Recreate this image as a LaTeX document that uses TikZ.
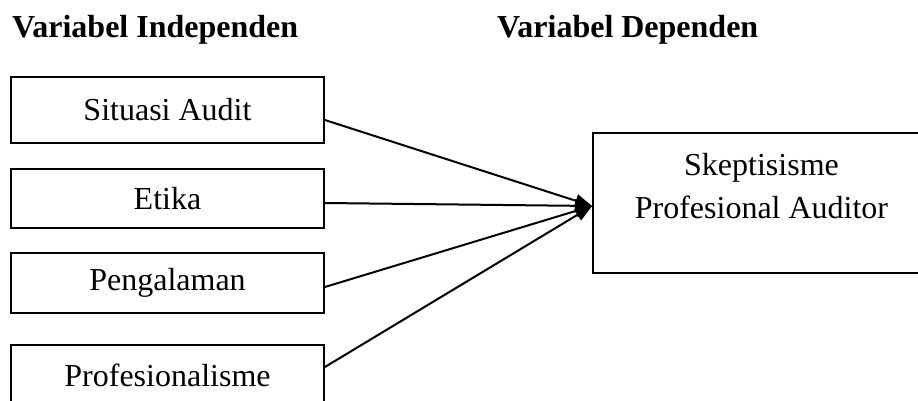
\documentclass[tikz,border=0pt]{standalone}
\usepackage{fontspec}
\setmainfont{Liberation Serif}
\usetikzlibrary{arrows.meta}
\begin{document}
\begin{tikzpicture}[x=1pt,y=-1pt,
 box/.style={draw, line width=1.8pt, minimum width=313pt, inner sep=0pt, font=\fontsize{32}{43}\selectfont},
 hdr/.style={font=\fontsize{32}{38}\selectfont\bfseries, anchor=base west, inner sep=0pt},
 link/.style={line width=2pt, -{Triangle[length=17pt,width=13pt]}}]
\useasboundingbox (0,0) rectangle (918,401);
\clip (0,0) rectangle (918,401);
\node[hdr] (h1) at (12,38) {Variabel Independen};
\node[hdr] (h2) at (497,38) {Variabel Dependen};
\node[box, minimum height=66pt] (s1) at (167.5,110) {Situasi Audit};
\node[box, minimum height=59pt] (s2) at (167.5,198.5) {Etika};
\node[box, minimum height=60pt] (s3) at (167.5,283) {Pengalaman};
\node[box, minimum height=60pt] (s4) at (167.5,375) {Profesionalisme};
\node[box, minimum width=337pt, minimum height=140pt] (dep) at (761.5,203) {};
\node[font=\fontsize{32}{43}\selectfont, align=center, inner sep=0pt] (deptext) at (761.5,186) {Skeptisisme\\Profesional Auditor};
\draw[link] ([yshift=-10pt]s1.east) -- ([yshift=-3pt]dep.west);
\draw[link] ([yshift=-4.5pt]s2.east) -- ([yshift=-3pt]dep.west);
\draw[link] ([yshift=-4pt]s3.east) -- ([yshift=-3pt]dep.west);
\draw[link] ([yshift=8pt]s4.east) -- ([yshift=-3pt]dep.west);
\end{tikzpicture}
\end{document}
